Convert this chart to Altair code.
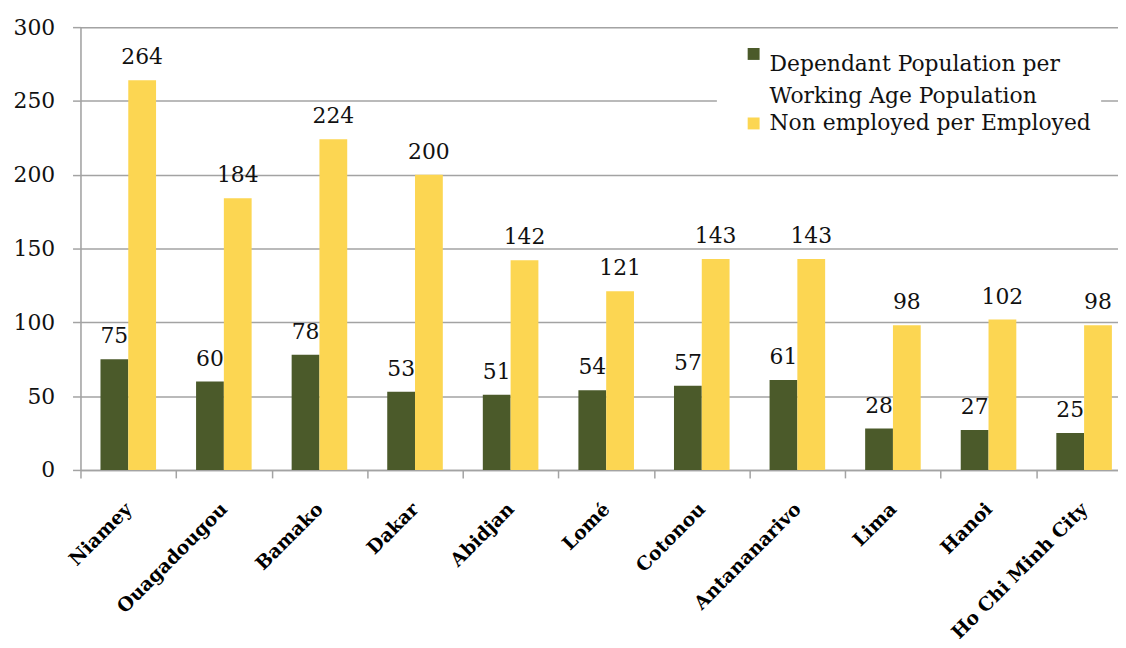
import altair as alt
import pandas as pd

cities = ["Niamey", "Ouagadougou", "Bamako", "Dakar", "Abidjan", "Lomé",
          "Cotonou", "Antananarivo", "Lima", "Hanoi", "Ho Chi Minh City"]
dependant = [75, 60, 78, 53, 51, 54, 57, 61, 28, 27, 25]
non_employed = [264, 184, 224, 200, 142, 121, 143, 143, 98, 102, 98]
series = ["Dependant Population per Working Age Population", "Non employed per Employed"]
colors = ["#4B5A2A", "#FCD652"]
y_ticks = [0, 50, 100, 150, 200, 250, 300]

rows = []
for c, d, n in zip(cities, dependant, non_employed):
    rows.append({"city": c, "series": series[0], "value": d})
    rows.append({"city": c, "series": series[1], "value": n})
df = pd.DataFrame(rows)

GRAY = "#a3a3a3"
FONT = "DejaVu Serif"

x = alt.X(
    "city:N", sort=cities, title=None,
    scale=alt.Scale(paddingInner=0, paddingOuter=0),
    axis=alt.Axis(tickBand="extent", labelAngle=-45, labelAlign="right",
                  labelBaseline="middle", labelFont=FONT, labelFontWeight="bold",
                  labelFontSize=19, labelColor="#000", labelPadding=28,
                  labelLimit=400,
                  tickSize=8, tickColor=GRAY, tickWidth=1.5,
                  domainColor=GRAY, domainWidth=1.5, grid=False),
)
xo = alt.XOffset("series:N", sort=series,
                 scale=alt.Scale(paddingInner=0, paddingOuter=0.72))
y = alt.Y(
    "value:Q", title=None,
    scale=alt.Scale(domain=[0, 300], nice=False),
    axis=alt.Axis(values=y_ticks, grid=True, gridColor=GRAY, gridWidth=1.5,
                  tickSize=8, tickColor=GRAY, tickWidth=1.5,
                  domainColor=GRAY, domainWidth=1.5,
                  labelFont=FONT, labelFontSize=22, labelColor="#111",
                  labelPadding=18),
)

legend_expr = ("datum.label == 'Dependant Population per Working Age Population' ? "
               "['Dependant Population per', 'Working Age Population'] : datum.label")

color = alt.Color(
    "series:N", sort=series,
    scale=alt.Scale(domain=series, range=colors),
    legend=alt.Legend(
        title=None, orient="none", legendX=641, legendY=6, direction="vertical",
        fillColor="white", padding=10, symbolType="square", symbolSize=144,
        symbolStrokeWidth=0, symbolOffset=16, labelFont=FONT, labelFontSize=22,
        labelColor="#111", labelLimit=600, labelOffset=5,
        labelBaseline={"expr": "datum.label == 'Non employed per Employed' ? 'middle' : 'top'"},
        rowPadding=6, labelExpr=legend_expr,
    ),
)

base = alt.Chart(df)
bars = base.mark_bar().encode(x=x, xOffset=xo, y=y, color=color)
labels = base.mark_text(font=FONT, fontSize=22, color="#111", baseline="alphabetic",
                        dy=-16).encode(x=x, xOffset=xo, y=y, text="value:Q")

chart = (bars + labels).properties(
    width=1059, height=446,
    padding={"left": 73, "top": 17, "right": -14, "bottom": 170},
    autosize="none",
).configure_view(stroke=None).configure(
    background="white", style={"guide-label": {"lineHeight": 32}}
)

chart.save("out.html", embed_options={"renderer": "svg", "actions": False})
